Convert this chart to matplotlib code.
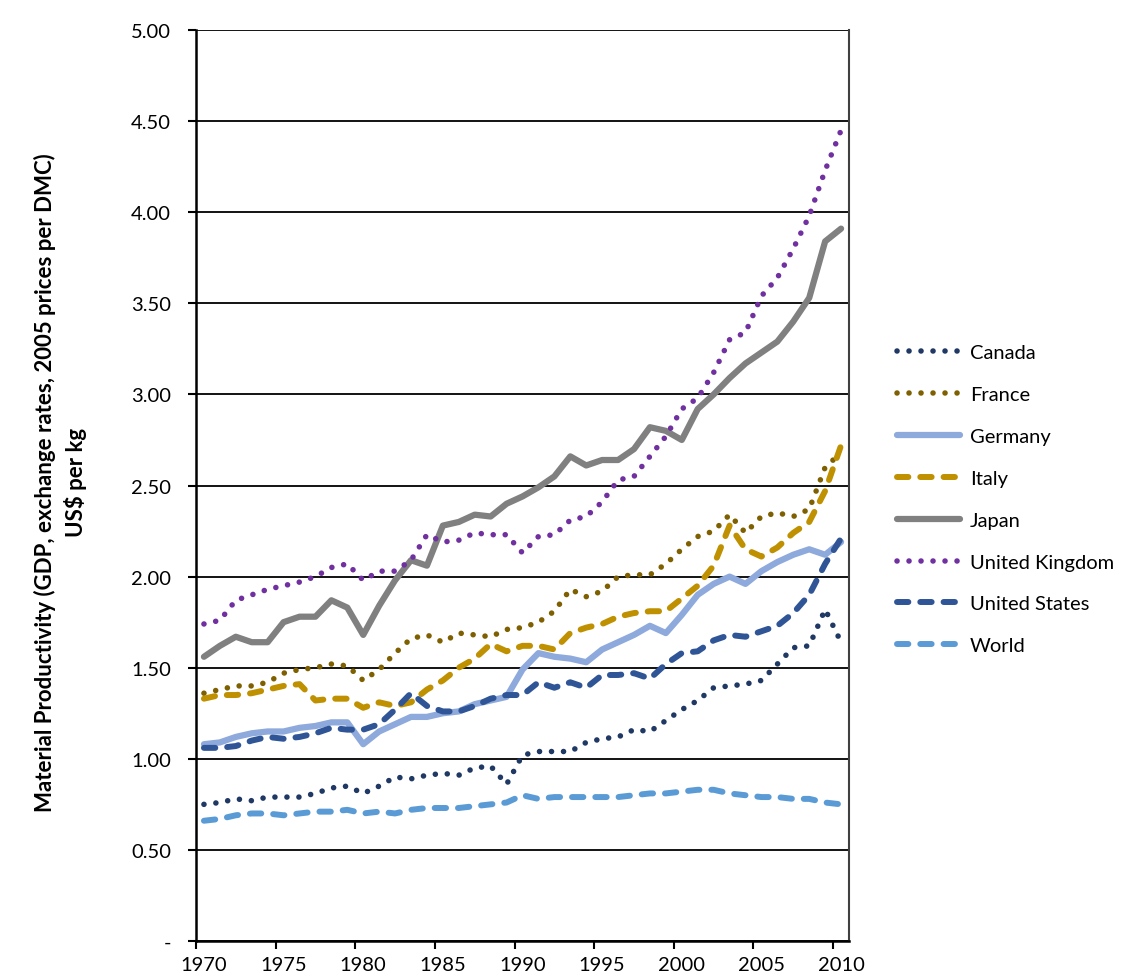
import matplotlib
matplotlib.use("Agg")
import matplotlib.pyplot as plt
from matplotlib.ticker import FuncFormatter, MultipleLocator

plt.rcParams['font.family'] = ['Lato', 'DejaVu Sans']

years = list(range(1970, 2011))

canada = [0.75, 0.76, 0.78, 0.77, 0.79, 0.79, 0.79, 0.81, 0.84, 0.85,
          0.81, 0.85, 0.90, 0.89, 0.91, 0.92, 0.91, 0.95, 0.96, 0.86,
          1.02, 1.04, 1.04, 1.04, 1.09, 1.11, 1.12, 1.16, 1.15, 1.21,
          1.27, 1.32, 1.39, 1.40, 1.41, 1.43, 1.52, 1.61, 1.62, 1.82, 1.64]
france = [1.36, 1.38, 1.40, 1.40, 1.42, 1.47, 1.49, 1.50, 1.52, 1.51,
          1.43, 1.49, 1.58, 1.66, 1.68, 1.64, 1.69, 1.68, 1.67, 1.71,
          1.72, 1.75, 1.81, 1.93, 1.89, 1.92, 2.00, 2.01, 2.01, 2.07,
          2.15, 2.22, 2.25, 2.34, 2.24, 2.33, 2.35, 2.33, 2.37, 2.60, 2.68]
germany = [1.08, 1.09, 1.12, 1.14, 1.15, 1.15, 1.17, 1.18, 1.20, 1.20,
           1.08, 1.15, 1.19, 1.23, 1.23, 1.25, 1.26, 1.30, 1.32, 1.34,
           1.49, 1.58, 1.56, 1.55, 1.53, 1.60, 1.64, 1.68, 1.73, 1.69,
           1.79, 1.90, 1.96, 2.00, 1.96, 2.03, 2.08, 2.12, 2.15, 2.12, 2.19]
italy = [1.33, 1.35, 1.35, 1.36, 1.38, 1.40, 1.41, 1.32, 1.33, 1.33,
         1.28, 1.31, 1.29, 1.31, 1.38, 1.43, 1.50, 1.55, 1.63, 1.59,
         1.62, 1.62, 1.60, 1.69, 1.72, 1.74, 1.78, 1.80, 1.81, 1.81,
         1.88, 1.95, 2.06, 2.28, 2.15, 2.11, 2.16, 2.24, 2.30, 2.47, 2.72]
japan = [1.56, 1.62, 1.67, 1.64, 1.64, 1.75, 1.78, 1.78, 1.87, 1.83,
         1.68, 1.84, 1.98, 2.09, 2.06, 2.28, 2.30, 2.34, 2.33, 2.40,
         2.44, 2.49, 2.55, 2.66, 2.61, 2.64, 2.64, 2.70, 2.82, 2.80,
         2.75, 2.92, 3.00, 3.09, 3.17, 3.23, 3.29, 3.40, 3.53, 3.84, 3.91]
uk = [1.74, 1.76, 1.87, 1.90, 1.93, 1.95, 1.97, 2.00, 2.05, 2.07,
      1.98, 2.03, 2.03, 2.09, 2.23, 2.19, 2.20, 2.24, 2.23, 2.23,
      2.13, 2.22, 2.23, 2.31, 2.33, 2.41, 2.53, 2.55, 2.66, 2.77,
      2.92, 2.98, 3.12, 3.30, 3.34, 3.54, 3.64, 3.80, 3.98, 4.23, 4.45]
usa = [1.06, 1.06, 1.07, 1.10, 1.12, 1.11, 1.12, 1.14, 1.17, 1.16,
       1.16, 1.19, 1.27, 1.36, 1.29, 1.26, 1.26, 1.29, 1.33, 1.35,
       1.35, 1.42, 1.39, 1.42, 1.39, 1.46, 1.46, 1.47, 1.44, 1.52,
       1.58, 1.59, 1.65, 1.68, 1.67, 1.70, 1.73, 1.80, 1.90, 2.07, 2.21]
world = [0.66, 0.67, 0.69, 0.70, 0.70, 0.69, 0.70, 0.71, 0.71, 0.72,
         0.70, 0.71, 0.70, 0.72, 0.73, 0.73, 0.73, 0.74, 0.75, 0.76,
         0.80, 0.78, 0.79, 0.79, 0.79, 0.79, 0.79, 0.80, 0.81, 0.81,
         0.82, 0.83, 0.83, 0.81, 0.80, 0.79, 0.79, 0.78, 0.78, 0.76, 0.75]

series = [
    ("Canada", canada, "#1F3864", "dot"),
    ("France", france, "#7F6000", "dot"),
    ("Germany", germany, "#8EA9DB", "solid"),
    ("Italy", italy, "#BF9000", "dash"),
    ("Japan", japan, "#808080", "solid"),
    ("United Kingdom", uk, "#7030A0", "dot"),
    ("United States", usa, "#2F5597", "dash"),
    ("World", world, "#5B9BD5", "dash"),
]

fig = plt.figure(figsize=(11.25, 9.79), dpi=100)
ax = fig.add_axes([0.1742, 0.0378, 0.5805, 0.9305])

for name, vals, col, style in series:
    if style == "solid":
        ax.plot(years, vals, color=col, lw=4.5, solid_capstyle='round',
                solid_joinstyle='round', label=name)
    elif style == "dash":
        ax.plot(years, vals, color=col, lw=4.3, dashes=(1.9, 2.0),
                dash_capstyle='round', dash_joinstyle='round', label=name)
    else:
        ax.plot(years, vals, color=col, lw=4.0, dashes=(0.01, 2.15),
                dash_capstyle='round', label=name)

ax.set_xlim(1969.5, 2010.5)
ax.set_ylim(0, 5)

# ticks at category edges, labels at category centres
ax.set_xticks([1969.5 + 5 * i for i in range(9)])
ax.set_xticklabels([])
ax.set_xticks(list(range(1970, 2011, 5)), minor=True)
ax.set_xticklabels([str(y) for y in range(1970, 2011, 5)], minor=True)
ax.tick_params(axis='x', which='major', length=6, width=1.5, direction='out')
ax.tick_params(axis='x', which='minor', length=0, pad=11, labelsize=14.5)

ax.yaxis.set_major_locator(MultipleLocator(0.5))
ax.yaxis.set_major_formatter(FuncFormatter(lambda v, p: "-" if abs(v) < 1e-9 else f"{v:.2f}"))
ax.tick_params(axis='y', length=6, width=1.5, direction='out', pad=12, labelsize=14.5)

ax.grid(axis='y', color='black', lw=1.3)
ax.set_axisbelow(True)
for s in ['left', 'bottom']:
    ax.spines[s].set_linewidth(1.8)
ax.spines['right'].set_linewidth(1.5)
ax.spines['right'].set_color('#404040')
ax.spines['top'].set_visible(False)

ax.set_ylabel("Material Productivity (GDP, exchange rates, 2005 prices per DMC)\nUS$ per kg",
              fontsize=16, fontweight='bold', linespacing=1.4)
ax.yaxis.set_label_coords(-0.167, 0.504)

fig.legend(loc='center left', bbox_to_anchor=(0.7885, 0.489), frameon=False,
           fontsize=14.5, handlelength=3.1, handletextpad=0.5, labelspacing=1.23,
           borderpad=0)

fig.savefig("out.png", dpi=100)
